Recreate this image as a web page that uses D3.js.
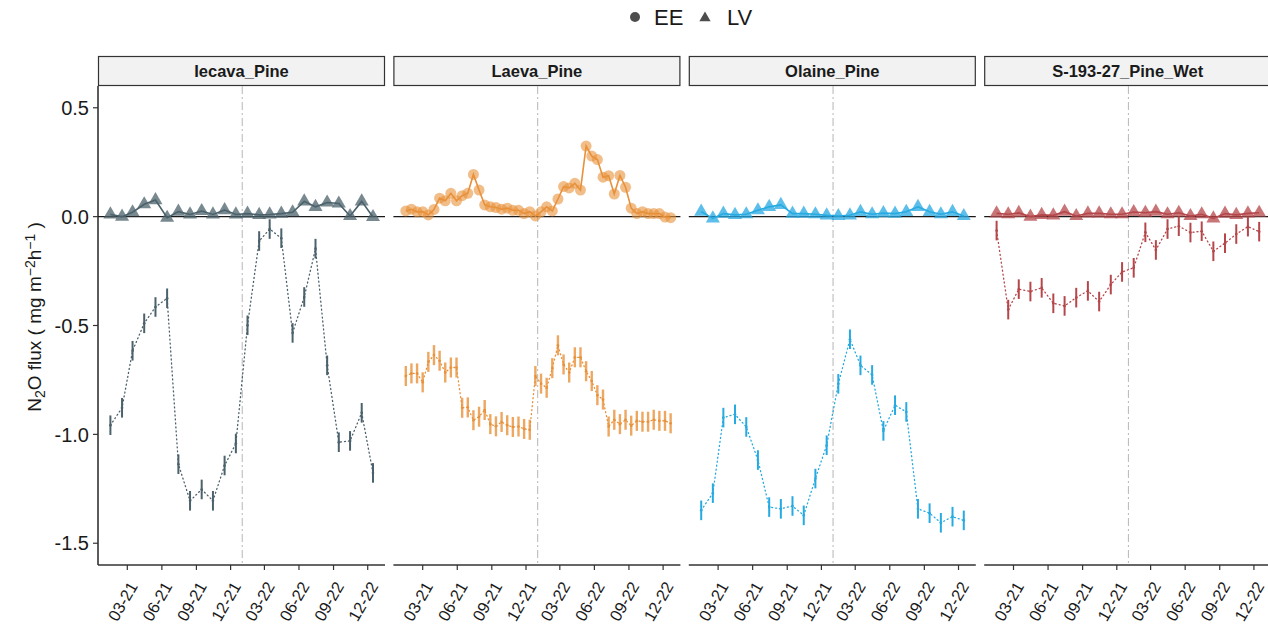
<!DOCTYPE html>
<html>
<head>
<meta charset="utf-8">
<script src="https://cdn.jsdelivr.net/npm/d3@7"></script>
<style>
  body { margin: 0; background: #fff; }
  text { font-family: "Liberation Sans", Arial, sans-serif; }
</style>
</head>
<body>
<svg id="chart" width="1268" height="627"></svg>
<script>
'use strict';

// ---- data ----
var sites = ["Iecava_Pine", "Laeva_Pine", "Olaine_Pine", "S-193-27_Pine_Wet"];
var siteCountry = ["LV", "EE", "LV", "LV"];
var siteColors = ["#4b616b", "#e8913a", "#27aae1", "#b5474b"];

var monthlyDates = [
  "2021-01-15", "2021-02-15", "2021-03-15", "2021-04-15", "2021-05-15", "2021-06-15",
  "2021-07-15", "2021-08-15", "2021-09-15", "2021-10-15", "2021-11-15", "2021-12-15",
  "2022-01-15", "2022-02-15", "2022-03-15", "2022-04-15", "2022-05-15", "2022-06-15",
  "2022-07-15", "2022-08-15", "2022-09-15", "2022-10-15", "2022-11-15", "2022-12-15"
];
var biweeklyDates = [
  "2021-01-15", "2021-01-30", "2021-02-14", "2021-03-01", "2021-03-16", "2021-03-31",
  "2021-04-15", "2021-04-30", "2021-05-15", "2021-05-30", "2021-06-14", "2021-06-29",
  "2021-07-14", "2021-07-29", "2021-08-13", "2021-08-28", "2021-09-12", "2021-09-27",
  "2021-10-12", "2021-10-27", "2021-11-11", "2021-11-26", "2021-12-11", "2021-12-26",
  "2022-01-10", "2022-01-25", "2022-02-09", "2022-02-24", "2022-03-11", "2022-03-26",
  "2022-04-10", "2022-04-25", "2022-05-10", "2022-05-25", "2022-06-09", "2022-06-24",
  "2022-07-09", "2022-07-24", "2022-08-08", "2022-08-23", "2022-09-07", "2022-09-22",
  "2022-10-07", "2022-10-22", "2022-11-06", "2022-11-21", "2022-12-06", "2022-12-21"
];

// chamber flux (points near zero)
var iecavaChamber = [0.010, 0.000, 0.020, 0.057, 0.076, -0.005, 0.023, 0.010, 0.026, 0.010, 0.030, 0.010,
                     0.014, 0.008, 0.010, 0.014, 0.020, 0.070, 0.045, 0.065, 0.060, 0.003, 0.070, -0.002];
var laevaChamber = [0.026, 0.034, 0.022, 0.023, 0.008, 0.033, 0.085, 0.073, 0.107, 0.073, 0.096, 0.107,
                    0.194, 0.122, 0.054, 0.045, 0.042, 0.034, 0.039, 0.029, 0.029, 0.014, 0.023, 0.003,
                    0.022, 0.045, 0.026, 0.081, 0.138, 0.132, 0.153, 0.122, 0.324, 0.278, 0.262, 0.181,
                    0.188, 0.104, 0.189, 0.135, 0.039, 0.014, 0.023, 0.014, 0.014, 0.014, -0.002, -0.005];
var olaineChamber = [0.023, -0.008, 0.014, 0.008, 0.011, 0.029, 0.045, 0.054, 0.014, 0.014, 0.011, 0.006,
                     0.003, 0.006, 0.022, 0.011, 0.016, 0.014, 0.022, 0.045, 0.022, 0.011, 0.022, 0.003];
var wetChamber = [0.015, 0.011, 0.017, 0.000, 0.008, 0.006, 0.023, 0.003, 0.015, 0.015, 0.011, 0.011,
                  0.021, 0.018, 0.023, 0.011, 0.018, 0.003, 0.011, -0.008, 0.014, 0.008, 0.015, 0.018];

// modelled flux (error bars)
var iecavaModel = [-0.958, -0.878, -0.616, -0.490, -0.415, -0.375, -1.137, -1.305, -1.253, -1.305, -1.143, -1.042,
                   -0.499, -0.112, -0.057, -0.099, -0.534, -0.369, -0.147, -0.683, -1.036, -1.030, -0.901, -1.177];
var laevaModel = [-0.732, -0.720, -0.720, -0.761, -0.667, -0.636, -0.662, -0.716, -0.693, -0.693, -0.878, -0.876,
                  -0.935, -0.919, -0.888, -0.953, -0.963, -0.943, -0.958, -0.966, -0.964, -0.975, -0.979, -0.732,
                  -0.767, -0.786, -0.696, -0.591, -0.679, -0.716, -0.646, -0.646, -0.710, -0.755, -0.820, -0.840,
                  -0.964, -0.933, -0.953, -0.933, -0.960, -0.938, -0.942, -0.942, -0.933, -0.938, -0.938, -0.949];
var olaineModel = [-1.349, -1.270, -0.923, -0.908, -0.966, -1.118, -1.334, -1.342, -1.329, -1.372, -1.203, -1.050,
                   -0.768, -0.563, -0.683, -0.727, -0.984, -0.866, -0.897, -1.342, -1.362, -1.406, -1.378, -1.395];
var wetModel = [-0.064, -0.427, -0.333, -0.344, -0.327, -0.398, -0.410, -0.372, -0.341, -0.390, -0.312, -0.254,
                -0.235, -0.072, -0.153, -0.057, -0.044, -0.073, -0.067, -0.159, -0.122, -0.080, -0.046, -0.069];
var modelSE = [0.045, 0.046, 0.045, 0.045];

var chamberSeries = [iecavaChamber, laevaChamber, olaineChamber, wetChamber];
var modelSeries = [iecavaModel, laevaModel, olaineModel, wetModel];
var siteDates = [monthlyDates, biweeklyDates, monthlyDates, monthlyDates];

var yTicks = [0.5, 0.0, -0.5, -1.0, -1.5];
var xTickDates = ["2021-03-01", "2021-06-01", "2021-09-01", "2021-12-01",
                  "2022-03-01", "2022-06-01", "2022-09-01", "2022-12-01"];
var yearBreak = "2022-01-01";

// ---- layout ----
var parseDate = d3.timeParse("%Y-%m-%d");
var fmtTick = d3.timeFormat("%m-%y");
var svg = d3.select("#chart");

var panelLeft = 98, panelWidth = 287, panelStep = 295.4;
var stripTop = 56, plotTop = 86, plotBottom = 565;

var x = d3.scaleTime()
    .domain([parseDate("2020-12-13"), parseDate("2023-01-16")])
    .range([0, panelWidth]);
var y = d3.scaleLinear().domain([-1.6, 0.6]).range([plotBottom, plotTop]);

// legend
var legend = svg.append("g").attr("transform", "translate(0,17)");
legend.append("circle").attr("cx", 635).attr("cy", 0).attr("r", 5).attr("fill", "#4d4d4d");
legend.append("text").attr("x", 654).attr("y", 8).style("font-size", "22px").attr("fill", "#1a1a1a").text("EE");
legend.append("path").attr("d", d3.symbol(d3.symbolTriangle, 55)())
    .attr("transform", "translate(705,1)").attr("fill", "#4d4d4d");
legend.append("text").attr("x", 727).attr("y", 8).style("font-size", "22px").attr("fill", "#1a1a1a").text("LV");

// y axis title
var yTitle = svg.append("text")
    .attr("transform", "translate(41,317) rotate(-90)")
    .attr("text-anchor", "middle")
    .style("font-size", "19px")
    .attr("fill", "#1a1a1a");
yTitle.append("tspan").text("N");
yTitle.append("tspan").attr("baseline-shift", "-30%").style("font-size", "14px").text("2");
yTitle.append("tspan").text("O flux ( mg m");
yTitle.append("tspan").attr("baseline-shift", "45%").style("font-size", "14px").text("\u22122");
yTitle.append("tspan").text("h");
yTitle.append("tspan").attr("baseline-shift", "45%").style("font-size", "14px").text("\u22121");
yTitle.append("tspan").text(" )");

// y axis labels (left panel only)
svg.append("g").selectAll("text").data(yTicks).join("text")
    .attr("x", 89).attr("y", function (d) { return y(d); }).attr("dy", "0.36em")
    .attr("text-anchor", "end").style("font-size", "20px").attr("fill", "#1a1a1a")
    .text(function (d) { return d3.format(".1f")(d).replace("\u2212", "-"); });
svg.append("g").selectAll("line").data(yTicks).join("line")
    .attr("x1", panelLeft - 5).attr("x2", panelLeft)
    .attr("y1", function (d) { return y(d); }).attr("y2", function (d) { return y(d); })
    .attr("stroke", "#333").attr("stroke-width", 1.2);
svg.append("line").attr("x1", panelLeft).attr("x2", panelLeft)
    .attr("y1", plotTop).attr("y2", plotBottom).attr("stroke", "#333").attr("stroke-width", 1.6);

sites.forEach(function (site, i) {
    var ox = panelLeft + i * panelStep;
    var g = svg.append("g").attr("transform", "translate(" + ox + ",0)");
    var color = siteColors[i];
    var dates = siteDates[i].map(parseDate);

    // strip
    g.append("rect").attr("x", 0.5).attr("y", stripTop + 0.5)
        .attr("width", panelWidth - 1).attr("height", plotTop - stripTop - 1)
        .attr("fill", "#f2f2f2").attr("stroke", "#333").attr("stroke-width", 1.2);
    g.append("text").attr("x", panelWidth / 2).attr("y", (stripTop + plotTop) / 2).attr("dy", "0.36em")
        .attr("text-anchor", "middle").style("font-size", "16.5px").style("font-weight", "bold")
        .attr("fill", "#1a1a1a").text(site);

    // year break
    g.append("line").attr("x1", x(parseDate(yearBreak))).attr("x2", x(parseDate(yearBreak)))
        .attr("y1", plotTop).attr("y2", plotBottom)
        .attr("stroke", "#bdbdbd").attr("stroke-width", 1.1).attr("stroke-dasharray", "8,3,2,3");

    // zero line
    g.append("line").attr("x1", 0).attr("x2", panelWidth).attr("y1", y(0)).attr("y2", y(0))
        .attr("stroke", "#1a1a1a").attr("stroke-width", 1.3);

    // modelled flux: dotted line + error bars
    var model = modelSeries[i].map(function (v, k) { return { date: dates[k], value: v }; });
    var se = modelSE[i];
    g.append("path").datum(model)
        .attr("d", d3.line().x(function (d) { return x(d.date); }).y(function (d) { return y(d.value); }))
        .attr("fill", "none").attr("stroke", color).attr("stroke-width", 1.3)
        .attr("stroke-dasharray", "1,3").attr("stroke-linecap", "round");
    g.append("g").selectAll("line").data(model).join("line")
        .attr("x1", function (d) { return x(d.date); }).attr("x2", function (d) { return x(d.date); })
        .attr("y1", function (d) { return y(d.value + se); }).attr("y2", function (d) { return y(d.value - se); })
        .attr("stroke", color).attr("stroke-width", i === 1 ? 2.4 : 2).attr("stroke-opacity", i === 1 ? 0.8 : 1);
    g.append("g").selectAll("circle").data(model).join("circle")
        .attr("cx", function (d) { return x(d.date); }).attr("cy", function (d) { return y(d.value); })
        .attr("r", 1.3).attr("fill", color);

    // chamber flux: line + points
    var chamber = chamberSeries[i].map(function (v, k) { return { date: dates[k], value: v }; });
    g.append("path").datum(chamber)
        .attr("d", d3.line().x(function (d) { return x(d.date); }).y(function (d) { return y(d.value); }))
        .attr("fill", "none").attr("stroke", color).attr("stroke-width", 1.6);
    if (siteCountry[i] === "EE") {
        g.append("g").selectAll("circle").data(chamber).join("circle")
            .attr("cx", function (d) { return x(d.date); }).attr("cy", function (d) { return y(d.value); })
            .attr("r", 5.5).attr("fill", color).attr("fill-opacity", 0.6);
    } else {
        g.append("g").selectAll("path").data(chamber).join("path")
            .attr("d", d3.symbol(d3.symbolTriangle, 85)())
            .attr("transform", function (d) { return "translate(" + x(d.date) + "," + y(d.value) + ")"; })
            .attr("fill", color).attr("fill-opacity", 0.75);
    }

    // x axis
    g.append("line").attr("x1", 0).attr("x2", panelWidth).attr("y1", plotBottom).attr("y2", plotBottom)
        .attr("stroke", "#333").attr("stroke-width", 1.6);
    var ticks = xTickDates.map(parseDate);
    g.append("g").selectAll("line").data(ticks).join("line")
        .attr("x1", function (d) { return x(d); }).attr("x2", function (d) { return x(d); })
        .attr("y1", plotBottom).attr("y2", plotBottom + 5)
        .attr("stroke", "#333").attr("stroke-width", 1.2);
    g.append("g").selectAll("text").data(ticks).join("text")
        .attr("transform", function (d) { return "translate(" + (x(d) + 11) + "," + (plotBottom + 21) + ") rotate(-60)"; })
        .attr("text-anchor", "end")
        .style("font-size", "16.5px").attr("fill", "#1a1a1a")
        .text(function (d) { return fmtTick(d); });
});
</script>
</body>
</html>
